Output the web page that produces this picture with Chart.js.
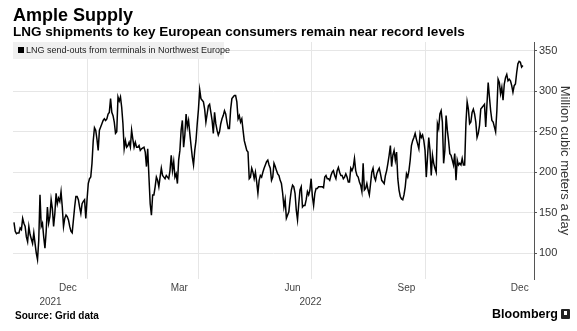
<!DOCTYPE html>
<html>
<head>
<meta charset="utf-8">
<script src="https://cdn.jsdelivr.net/npm/chart.js@4.4.0/dist/chart.umd.min.js"></script>
<style>
  html, body { margin: 0; padding: 0; background: #fff; }
  #wrap { position: relative; width: 577px; height: 331px; overflow: hidden;
          font-family: "Liberation Sans", Arial, sans-serif; color: #000; }
  #chart { position: absolute; left: 0; top: 0; }
  .title { position: absolute; left: 13px; top: 6px; font-weight: bold; font-size: 18px; line-height: 18px; }
  .subtitle { position: absolute; left: 13px; top: 25px; font-weight: bold; font-size: 13.5px; line-height: 14px; }
  .legend { position: absolute; left: 13px; top: 42px; width: 211px; height: 17px; background: #f0f0f0;
            font-size: 9px; line-height: 17px; color: #222; white-space: nowrap; }
  .legend i { display: inline-block; width: 6px; height: 6px; background: #000; margin: 0 2px 0 5px; vertical-align: 0; }
  .source { position: absolute; left: 15px; top: 311px; font-weight: bold; font-size: 10px; line-height: 10px; }
  .brand { position: absolute; left: 492px; top: 308px; font-weight: bold; font-size: 12.5px; line-height: 13px; }
  .brand b { display: inline-block; width: 9px; height: 10px; background: #222; border-radius: 1px;
             margin-left: 3px; vertical-align: -1px; position: relative; }
  .brand b::after { content: ""; position: absolute; left: 3px; top: 2px; width: 3px; height: 4px; background: #fff; }
</style>
</head>
<body>
<div id="wrap">
  <canvas id="chart" width="577" height="331"></canvas>
  <div class="title">Ample Supply</div>
  <div class="subtitle">LNG shipments to key European consumers remain near record levels</div>
  <div class="legend"><i></i>LNG send-outs from terminals in Northwest Europe</div>
  <div class="source">Source: Grid data</div>
  <div class="brand">Bloomberg<b></b></div>
</div>
<script>
// day 0 = 2021-11-01, values in million cubic meters a day
const dayIndex = [
  2, 3, 4, 5, 6, 7, 8, 9, 10, 11, 12, 13, 14, 15, 17, 18, 19, 20, 21, 22,
  23, 24, 25, 26, 27, 28, 29, 30, 31, 32, 33, 34, 35, 36, 37, 38, 39, 40, 41, 42,
  43, 44, 45, 46, 47, 48, 49, 51, 52, 53, 54, 55, 56, 57, 58, 59, 60, 61, 62, 63,
  64, 65, 66, 67, 68, 69, 70, 71, 72, 73, 74, 75, 76, 77, 78, 79, 80, 81, 82, 83,
  84, 85, 86, 87, 88, 89, 90, 91, 92, 93, 94, 95, 96, 97, 98, 99, 100, 101, 102,
  103, 104, 105, 107, 108, 109, 110, 111, 112, 113, 114, 115, 116, 117, 118, 119, 120,
  121, 122, 123, 124, 125, 126, 127, 128, 129, 130, 131, 132, 133, 134, 135, 136, 137,
  138, 139, 140, 141, 142, 143, 144, 145, 146, 147, 148, 149, 150, 151, 152, 153, 154,
  155, 156, 157, 158, 159, 160, 161, 162, 163, 164, 165, 166, 167, 168, 169, 170, 171,
  172, 173, 174, 175, 176, 177, 178, 179, 180, 181, 182, 183, 184, 185, 186, 187, 188,
  189, 190, 191, 192, 193, 194, 195, 196, 197, 198, 199, 200, 201, 202, 203, 204, 205,
  206, 207, 208, 209, 210, 211, 212, 213, 214, 215, 216, 217, 218, 219, 220, 221, 222,
  223, 224, 225, 226, 227, 228, 229, 230, 231, 232, 233, 234, 235, 236, 237, 238, 239,
  240, 241, 242, 243, 244, 245, 246, 247, 248, 249, 250, 251, 252, 253, 254, 255, 256,
  257, 258, 259, 260, 261, 262, 263, 264, 265, 266, 267, 268, 269, 270, 271, 272, 273,
  274, 275, 276, 277, 278, 279, 280, 281, 282, 283, 284, 285, 286, 287, 288, 289, 290,
  291, 292, 293, 294, 295, 296, 297, 298, 299, 300, 301, 302, 303, 304, 305, 306, 307,
  308, 309, 310, 311, 312, 313, 314, 315, 316, 317, 318, 319, 320, 321, 322, 323, 324,
  325, 326, 327, 328, 329, 330, 331, 332, 333, 334, 335, 336, 337, 338, 339, 340, 341,
  342, 343, 344, 345, 346, 347, 348, 349, 350, 351, 352, 353, 354, 355, 356, 357, 358,
  359, 360, 361, 362, 363, 364, 365, 366, 367, 368, 369, 370, 371, 372, 373, 374, 375,
  376, 377, 378, 379, 380, 381, 382, 383, 384, 385, 386, 387, 388, 389, 390, 391, 392,
  393, 394, 395, 396, 397, 398, 399, 400, 401, 402, 403, 404, 405, 406, 407, 408, 409,
  410, 411, 412, 413
];
const sendOuts = [
  138, 127, 124, 125, 125, 131, 129, 143, 137, 133, 120, 114, 133, 123, 112, 125, 112, 100, 92, 116,
  172, 133, 137, 120, 106, 127, 157, 137, 145, 166, 155, 133, 149, 174, 161, 168, 164, 176, 157, 133,
  143, 147, 145, 141, 133, 127, 125, 157, 170, 170, 166, 157, 149, 161, 164, 166, 143, 166, 186, 192,
  194, 211, 239, 255, 252, 241, 227, 252, 256, 260, 264, 266, 264, 266, 272, 274, 291, 274, 270, 262,
  248, 250, 293, 288, 293, 280, 260, 229, 239, 231, 233, 237, 231, 252, 241, 231, 237, 231, 231,
  233, 227, 229, 231, 225, 207, 229, 194, 161, 147, 172, 172, 182, 194, 190, 182, 194,
  205, 196, 194, 192, 196, 194, 192, 202, 221, 202, 213, 194, 198, 186, 215, 227, 252,
  264, 231, 246, 272, 256, 264, 248, 233, 219, 209, 227, 239, 260, 278, 302, 291, 289,
  287, 278, 262, 272, 282, 284, 274, 264, 248, 274, 260, 252, 246, 250, 260, 266, 270,
  276, 272, 262, 254, 254, 278, 291, 293, 295, 295, 287, 266, 270, 262, 266, 252, 239,
  233, 227, 225, 192, 194, 205, 200, 192, 200, 188, 174, 190, 196, 194, 200, 205, 209,
  213, 215, 209, 205, 190, 194, 211, 207, 202, 198, 196, 190, 186, 174, 157, 166, 143,
  147, 151, 166, 178, 184, 182, 174, 153, 141, 161, 178, 182, 157, 159, 159, 166, 176,
  172, 178, 192, 170, 159, 174, 180, 180, 182, 182, 182, 182, 181, 194, 196, 192, 192,
  190, 196, 200, 202, 196, 192, 202, 206, 200, 196, 196, 192, 194, 198, 194, 188, 188,
  205, 202, 206, 217, 202, 196, 194, 188, 184, 176, 211, 178, 180, 186, 178, 172, 186,
  200, 205, 194, 190, 198, 202, 205, 198, 190, 188, 186, 196, 202, 211, 221, 233, 207,
  221, 227, 215, 225, 192, 178, 170, 167, 166, 172, 182, 198, 194, 202, 215, 233, 239,
  243, 248, 241, 235, 229, 248, 243, 246, 239, 227, 194, 219, 243, 227, 196, 221, 211,
  205, 200, 260, 254, 272, 276, 262, 211, 227, 270, 252, 239, 223, 221, 215, 209, 223,
  190, 215, 209, 211, 209, 217, 209, 209, 260, 287, 278, 260, 262, 274, 278, 272, 262,
  243, 248, 258, 278, 280, 282, 284, 256, 284, 311, 293, 276, 264, 262, 256, 250, 276,
  315, 311, 297, 305, 289, 309, 317, 321, 313, 315, 313, 307, 299, 307, 309, 323, 334,
  337, 336, 330, 332
];

// quarter boundaries (Jan 1, Apr 1, Jul 1, Oct 1) carry the vertical grid
const gridDays = [61, 151, 242, 334];
// month labels sit in the middle of their month
const monthLabels = ['Dec', 'Mar', 'Jun', 'Sep', 'Dec'];
const monthMidDays = [45.5, 135.5, 227, 319, 410.5];
const yearLabels = ['2021', '2022'];
const yearMidDays = [31.5, 241.5];
const yTicks = [100, 150, 200, 250, 300, 350];

const X_MIN = 1.2, X_MAX = 422;

Chart.defaults.font.family = '"Liberation Sans", Arial, sans-serif';

// month / year labels under the plot, placed through the x scale
const dateLabels = {
  id: 'dateLabels',
  afterDraw(chart) {
    const { ctx, scales: { x } } = chart;
    ctx.save();
    ctx.fillStyle = '#444';
    ctx.font = '10px "Liberation Sans", Arial, sans-serif';
    ctx.textAlign = 'center';
    ctx.textBaseline = 'middle';
    monthLabels.forEach((m, i) => ctx.fillText(m, x.getPixelForValue(monthMidDays[i]), 288.5));
    yearLabels.forEach((y, i) => ctx.fillText(y, x.getPixelForValue(yearMidDays[i]), 302.5));
    ctx.restore();
  }
};

new Chart(document.getElementById('chart'), {
  type: 'line',
  data: {
    datasets: [{
      label: 'LNG send-outs from terminals in Northwest Europe',
      data: dayIndex.map((d, i) => ({ x: d, y: sendOuts[i] })),
      borderColor: '#000',
      borderWidth: 1.5,
      pointRadius: 0,
      tension: 0
    }]
  },
  options: {
    responsive: false,
    animation: false,
    layout: { padding: { left: 13, right: 0, top: 42, bottom: 52 } },
    plugins: { legend: { display: false }, tooltip: { enabled: false } },
    scales: {
      x: {
        type: 'linear',
        min: X_MIN,
        max: X_MAX,
        afterBuildTicks: s => { s.ticks = gridDays.map(v => ({ value: v })); },
        afterFit: s => { s.height = 0; },
        grid: { color: '#e6e6e6', drawTicks: false },
        border: { display: false },
        ticks: { display: false }
      },
      y: {
        position: 'right',
        min: 68,
        max: 361,
        afterBuildTicks: s => { s.ticks = yTicks.map(v => ({ value: v })); },
        afterFit: s => { s.width = 43; },
        grid: { color: '#e6e6e6', tickLength: 3, tickColor: '#555' },
        border: { display: true, color: '#555', width: 1 },
        ticks: { padding: 2, color: '#333', font: { size: 11 } },
        title: {
          display: true,
          text: 'Million cubic meters a day',
          color: '#333',
          font: { size: 13 },
          padding: { top: 5 }
        }
      }
    }
  },
  plugins: [dateLabels]
});
</script>
</body>
</html>
